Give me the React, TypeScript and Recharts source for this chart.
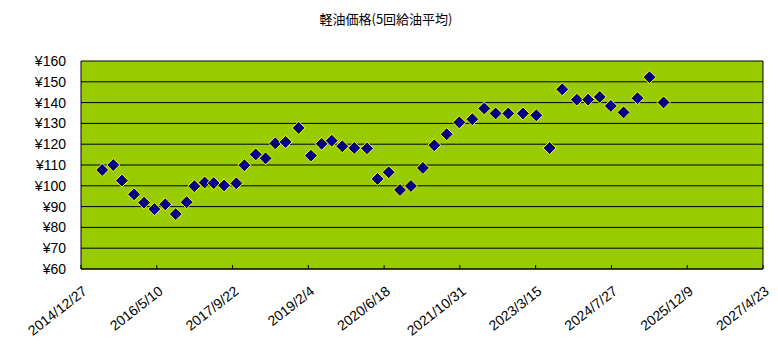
import { ScatterChart, Scatter, XAxis, YAxis, CartesianGrid, ReferenceLine } from 'recharts';

const dates = [
  '2015/5/16', '2015/7/28', '2015/9/23', '2015/12/12', '2016/2/16', '2016/4/24', '2016/7/5',
  '2016/9/12', '2016/11/23', '2017/1/13', '2017/3/22', '2017/5/21', '2017/7/28', '2017/10/17',
  '2017/12/9', '2018/2/22', '2018/4/28', '2018/7/1', '2018/9/7', '2018/12/2', '2019/2/21',
  '2019/5/3', '2019/7/8', '2019/9/16', '2019/12/4', '2020/2/26', '2020/5/6', '2020/7/18',
  '2020/10/1', '2020/12/12', '2021/3/1', '2021/5/15', '2021/8/5', '2021/10/27', '2022/1/21',
  '2022/4/10', '2022/6/24', '2022/9/15', '2022/12/21', '2023/3/19', '2023/6/15', '2023/9/6',
  '2023/12/12', '2024/2/24', '2024/5/11', '2024/7/23', '2024/10/15', '2025/1/15', '2025/4/4',
  '2025/7/6',
];

const prices = [
  107.6, 110.0, 102.5, 95.9, 91.9, 88.8, 91.1, 86.4, 92.1, 99.8,
  101.6, 101.3, 100.2, 101.2, 109.9, 115.1, 113.2, 120.4, 121.1, 127.8,
  114.5, 120.2, 121.7, 119.0, 118.2, 118.0, 103.3, 106.5, 98.0, 99.9,
  108.6, 119.5, 124.8, 130.5, 132.0, 137.2, 134.8, 134.8, 134.8, 133.9,
  118.2, 146.4, 141.4, 141.4, 142.7, 138.4, 135.3, 142.1, 152.2, 140.1,
];

const xTicks = [
  '2014/12/27', '2016/5/10', '2017/9/22', '2019/2/4', '2020/6/18',
  '2021/10/31', '2023/3/15', '2024/7/27', '2025/12/9', '2027/4/23',
];

const yTicks = [60, 70, 80, 90, 100, 110, 120, 130, 140, 150, 160];

const toTime = (s: string) => {
  const [y, m, d] = s.split('/').map(Number);
  return Date.UTC(y, m - 1, d);
};

const fmtDate = (t: number) => {
  const d = new Date(t);
  return `${d.getUTCFullYear()}/${d.getUTCMonth() + 1}/${d.getUTCDate()}`;
};

const data = dates.map((d, i) => ({ t: toTime(d), price: prices[i] }));
const tickTimes = xTicks.map(toTime);
const xMin = tickTimes[0];
const xMax = tickTimes[tickTimes.length - 1];

const Diamond = (props: any) => {
  const { cx, cy } = props;
  const r = 6.5;
  return (
    <polygon
      points={`${cx},${cy - r} ${cx + r},${cy} ${cx},${cy + r} ${cx - r},${cy}`}
      fill="#000080"
      stroke="#FFFF00"
      strokeWidth={1}
    />
  );
};

const DateTick = (props: any) => {
  const { x, y, payload } = props;
  return (
    <g transform={`translate(${x},${y})`}>
      <line x1={0} y1={0} x2={0} y2={-4} stroke="#000" />
      <text
        transform="translate(7,24) rotate(-38)"
        textAnchor="end"
        fontSize={14}
        fontFamily="'Liberation Sans', Arial, sans-serif"
        fill="#000"
      >
        {fmtDate(payload.value)}
      </text>
    </g>
  );
};

export default function App() {
  return (
    <div style={{ position: 'absolute', left: 0, top: 0, width: 778, height: 350, background: '#fff' }}>
      <div
        style={{
          position: 'absolute',
          left: 0,
          top: 9,
          width: 772,
          textAlign: 'center',
          fontSize: 13,
          fontFamily: "'Noto Sans CJK JP', sans-serif",
          color: '#000',
        }}
      >
        軽油価格(5回給油平均)
      </div>
      <ScatterChart width={778} height={350} margin={{ top: 61, right: 15, left: 0, bottom: 0 }}>
        <CartesianGrid vertical={false} stroke="#000" strokeWidth={1} fill="#99CC00" fillOpacity={1} />
        <XAxis
          type="number"
          dataKey="t"
          domain={[xMin, xMax]}
          ticks={tickTimes}
          height={81}
          axisLine={{ stroke: '#000' }}
          tickLine={false}
          tickSize={0}
          tickMargin={0}
          interval={0}
          tick={<DateTick />}
        />
        <YAxis
          type="number"
          dataKey="price"
          domain={[60, 160]}
          ticks={yTicks}
          width={81}
          axisLine={{ stroke: '#000' }}
          tickLine={false}
          tickSize={0}
          tickMargin={15}
          interval={0}
          tickFormatter={(v: number) => `¥${v}`}
          tick={{ fill: '#000', fontSize: 14, fontFamily: "'Liberation Sans', Arial, sans-serif" }}
        />
        <ReferenceLine x={xMax} stroke="#000" />
        <Scatter data={data} shape={<Diamond />} isAnimationActive={false} />
      </ScatterChart>
    </div>
  );
}
